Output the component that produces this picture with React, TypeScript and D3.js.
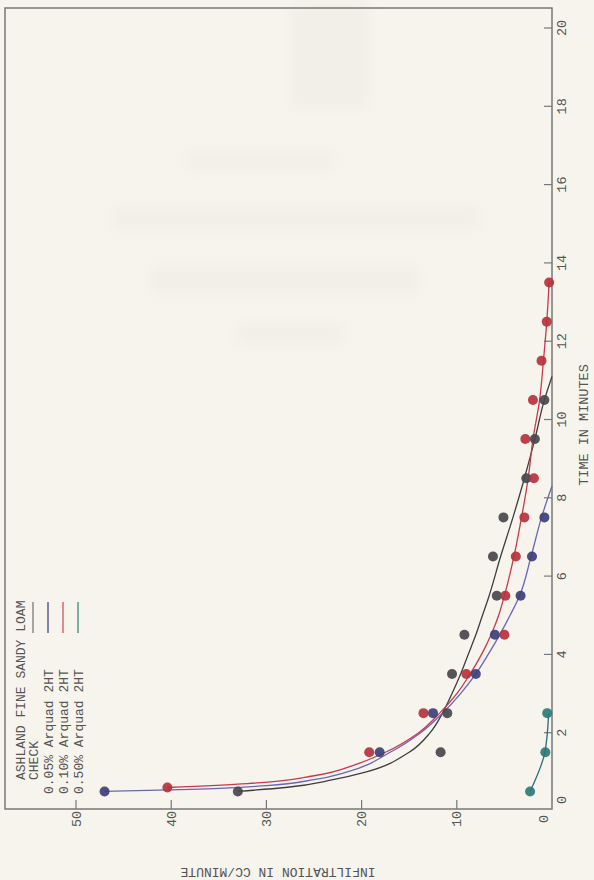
import React from 'react';
import * as d3 from 'd3';

const W = 594;
const H = 880;

// axis ticks
const timeTicks = [0, 2, 4, 6, 8, 10, 12, 14, 16, 18, 20];
const infTicks = [0, 10, 20, 30, 40, 50];

// observed points (time in minutes, infiltration cc/min)
const checkTimes = [0.5, 1.5, 2.5, 3.5, 4.5, 5.5, 6.5, 7.5, 8.5, 9.5, 10.5];
const checkValues = [33, 11.7, 11, 10.5, 9.2, 5.8, 6.2, 5.1, 2.7, 1.8, 0.8];

const arq05Times = [0.5, 1.5, 2.5, 3.5, 4.5, 5.5, 6.5, 7.5];
const arq05Values = [47, 18.1, 12.5, 8.0, 6.0, 3.3, 2.1, 0.8];

const arq10Times = [0.6, 1.5, 2.5, 3.5, 4.5, 5.5, 6.5, 7.5, 8.5, 9.5, 10.5, 11.5, 12.5, 13.5];
const arq10Values = [40.4, 19.2, 13.5, 9.0, 5.0, 4.9, 3.8, 2.9, 1.9, 2.8, 2.0, 1.1, 0.55, 0.3];

const arq50Times = [0.5, 1.5, 2.5];
const arq50Values = [2.3, 0.7, 0.5];

// hand-drawn fitted curves
const checkCurveT = [0.5, 0.6, 0.8, 1, 1.5, 2, 2.5, 3, 3.5, 4, 4.5, 5, 5.5, 6.5, 7.5, 8.5, 9.5, 10.5, 11.1];
const checkCurveV = [33, 28, 23, 19.5, 15, 12.8, 11.5, 10.5, 9.6, 8.8, 8.0, 7.3, 6.6, 5.4, 4.1, 2.9, 1.8, 0.8, 0];

const arq05CurveT = [0.5, 0.55, 0.65, 0.8, 1, 1.5, 2, 2.5, 3, 3.5, 4, 4.5, 5, 5.5, 6.5, 7.5, 8.3];
const arq05CurveV = [47, 38, 30, 25, 21.5, 17, 13.8, 11.5, 9.6, 8.0, 6.7, 5.5, 4.4, 3.4, 2.2, 1.1, 0];

const arq10CurveT = [0.6, 0.7, 0.9, 1.2, 1.5, 2, 2.5, 3, 3.5, 4, 4.5, 5, 5.5, 6.5, 7.5, 8.5, 9.5, 10.5, 11.5, 12.5, 13.5];
const arq10CurveV = [40.4, 32, 25, 20.5, 17.5, 14, 11.8, 10, 8.6, 7.4, 6.4, 5.6, 5.0, 4.0, 3.2, 2.5, 2.0, 1.3, 0.9, 0.55, 0.3];

const arq50CurveT = [0.5, 1.5, 2.5];
const arq50CurveV = [2.3, 0.75, 0.35];

const legendTitle = 'ASHLAND FINE SANDY LOAM';
const legendLabels = ['CHECK', '0.05% Arquad 2HT', '0.10% Arquad 2HT', '0.50% Arquad 2HT'];

const FONT = '"Liberation Mono", "DejaVu Sans Mono", monospace';
const INK = '#555555';

// faint show-through of the reverse page (decorative smudges)
const ghostBlocks: [number, number, number, number][] = [
  [185, 150, 150, 22],
  [110, 205, 370, 26],
  [150, 265, 270, 30],
  [235, 322, 110, 24],
  [290, 0, 80, 110],
];

export default function App() {
  const left = 5, right = 552, top = 8, bottom = 809;
  const tS = d3.scaleLinear().domain([0, 20]).range([811, 28]);
  const vS = d3.scaleLinear().domain([0, 50]).range([552, 76]);

  const line = d3
    .line<[number, number]>()
    .x((d) => vS(d[1]))
    .y((d) => tS(d[0]))
    .curve(d3.curveMonotoneY);

  const zip = (a: number[], b: number[]) => a.map((t, i) => [t, b[i]] as [number, number]);

  const series = [
    { name: legendLabels[0], pts: zip(checkTimes, checkValues), curve: zip(checkCurveT, checkCurveV), dot: '#48484c', stroke: '#3e3e42', leg: '#8a8a8a' },
    { name: legendLabels[1], pts: zip(arq05Times, arq05Values), curve: zip(arq05CurveT, arq05CurveV), dot: '#3c3f78', stroke: '#6a66b4', leg: '#5c5f8c' },
    { name: legendLabels[2], pts: zip(arq10Times, arq10Values), curve: zip(arq10CurveT, arq10CurveV), dot: '#b5323c', stroke: '#c8384e', leg: '#d26a72' },
    { name: legendLabels[3], pts: zip(arq50Times, arq50Values), curve: zip(arq50CurveT, arq50CurveV), dot: '#2e7a76', stroke: '#2e6d78', leg: '#4e9a8a' },
  ];

  const legendRowsX = [20, 33, 48, 63, 78];

  return (
    <div style={{ position: 'fixed', left: 0, top: 0, width: W, height: H, background: '#f6f4ec' }}>
      <svg width={W} height={H} style={{ display: 'block' }}>
        <defs>
          <filter id="blur" x="-20%" y="-50%" width="140%" height="200%">
            <feGaussianBlur stdDeviation="7" />
          </filter>
        </defs>
        <rect x={0} y={0} width={W} height={H} fill="#f6f4ec" />
        <g filter="url(#blur)" opacity={0.14}>
          {ghostBlocks.map((b, i) => (
            <rect key={'g' + i} x={b[0]} y={b[1]} width={b[2]} height={b[3]} fill="#d6d3ca" />
          ))}
        </g>
        {/* frame */}
        <rect x={left} y={top} width={right - left} height={bottom - top} fill="none" stroke="#777" strokeWidth={1.5} />

        {/* time axis (right) */}
        {timeTicks.filter((t) => t > 0).map((t) => (
          <line key={'tt' + t} x1={right - 8} x2={right} y1={tS(t)} y2={tS(t)} stroke="#777" strokeWidth={1.2} />
        ))}
        {timeTicks.map((t) => (
          <text
            key={'tl' + t}
            transform={`translate(${566},${t === 0 ? 800 : tS(t)}) rotate(-90)`}
            textAnchor="middle"
            fontFamily={FONT}
            fontSize={13.5}
            fill={INK}
          >
            {t}
          </text>
        ))}
        <text transform={`translate(588,425) rotate(-90)`} textAnchor="middle" fontFamily={FONT} fontSize={13.5} fill={INK}>
          TIME IN MINUTES
        </text>

        {/* infiltration axis (bottom) */}
        {infTicks.filter((v) => v > 0).map((v) => (
          <line key={'vt' + v} x1={vS(v)} x2={vS(v)} y1={bottom - 9} y2={bottom} stroke="#777" strokeWidth={1.2} />
        ))}
        {infTicks.map((v) => (
          <text
            key={'vl' + v}
            transform={`translate(${(v === 0 ? 543 : vS(v)) + 4.5},${819}) rotate(-90)`}
            textAnchor="middle"
            fontFamily={FONT}
            fontSize={13.5}
            fill={INK}
          >
            {v}
          </text>
        ))}
        <text transform={`translate(278,868) rotate(180)`} textAnchor="middle" fontFamily={FONT} fontSize={13} fill={INK}>
          INFILTRATION IN CC/MINUTE
        </text>

        {/* curves */}
        {series.map((s) => (
          <path key={'c' + s.name} d={line(s.curve) || ''} fill="none" stroke={s.stroke} strokeWidth={1.3} />
        ))}
        {/* points */}
        {series.map((s) =>
          s.pts.map((p, i) => (
            <circle key={s.name + i} cx={vS(p[1])} cy={tS(p[0])} r={5} fill={s.dot} opacity={0.92} />
          ))
        )}

        {/* legend */}
        <text transform={`translate(${legendRowsX[0] + 4.5},780) rotate(-90)`} fontFamily={FONT} fontSize={13} fill={INK}>
          {legendTitle}
        </text>
        {series.map((s, i) => (
          <g key={'lg' + i}>
            <text
              transform={`translate(${legendRowsX[i + 1] + 4.5},${i === 0 ? 780 : 794}) rotate(-90)`}
              fontFamily={FONT}
              fontSize={13}
              fill={INK}
            >
              {s.name}
            </text>
            <line x1={legendRowsX[i + 1]} x2={legendRowsX[i + 1]} y1={602} y2={633} stroke={s.leg} strokeWidth={1.5} />
          </g>
        ))}
      </svg>
    </div>
  );
}
